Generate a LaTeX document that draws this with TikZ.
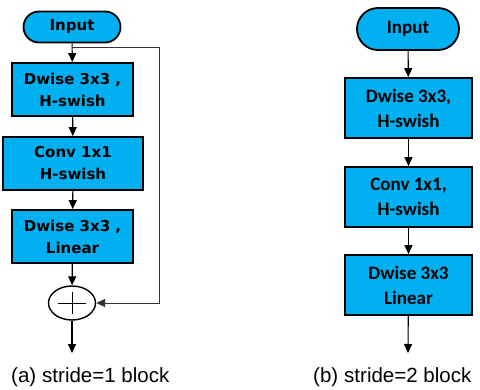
\documentclass[tikz,border=0pt]{standalone}
\usepackage{fontspec}
\setmainfont{Liberation Sans}
\newfontfamily\leftfont{DejaVuSans-Bold.ttf}
\newfontfamily\rightfont{Carlito}
\usetikzlibrary{arrows.meta,shapes.misc,shapes.geometric}
\definecolor{boxblue}{HTML}{00B0F0}

\begin{document}
\begin{tikzpicture}[x=1pt,y=-1pt,
  blk/.style={draw=black, line width=1.8pt, fill=boxblue, inner sep=0pt, align=center},
  inp/.style={rounded rectangle, draw=black, line width=1.8pt, fill=boxblue, inner sep=0pt},
  lft/.style={font=\leftfont\fontsize{15}{22}\selectfont},
  rgt/.style={font=\rightfont\bfseries\fontsize{19}{25}\selectfont},
  arr/.style={line width=1.1pt, -{Triangle[width=8pt,length=9pt]}},
  captxt/.style={font=\fontsize{20.5}{22}\selectfont, anchor=base west, inner sep=0pt}]

  \useasboundingbox (0,0) rectangle (480,389);

  % (a) stride=1
  \node[inp, lft, minimum width=97pt, minimum height=31pt] (inA) at (72,27) {Input};
  \node[blk, lft, minimum width=121pt, minimum height=53pt] (a1) at (72.5,89.5) {Dwise 3x3 ,\\H-swish};
  \node[blk, lft, minimum width=140pt, minimum height=53pt] (a2) at (73,163.5) {Conv 1x1\\H-swish};
  \node[blk, lft, minimum width=121pt, minimum height=53pt] (a3) at (72.5,236.5) {Dwise 3x3 ,\\Linear};
  \node[ellipse, draw=black, line width=1.4pt, fill=white, minimum width=47pt, minimum height=34pt, inner sep=0pt] (add) at (72,303) {};
  \coordinate (split) at (72,47);
  \coordinate (outA) at (72,353);

  \draw[line width=0.7pt] ([xshift=-14pt]add.center) -- ([xshift=14pt]add.center)
                          ([yshift=-11pt]add.center) -- ([yshift=11pt]add.center);

  \draw[arr] (inA) -- (a1);
  \draw[arr] (a1) -- (a2);
  \draw[arr] (a2) -- (a3);
  \draw[arr] (a3) -- (add);
  \draw[arr] (add) -- (outA);
  \draw[line width=0.9pt, black!80, -{Triangle[width=8pt,length=9pt]}] (split) -- ++(87,0) |- (add.east);

  \node[captxt] (capA) at (11,382) {(a)\hspace{6pt}stride=1 block};

  % (b) stride=2
  \node[inp, rgt, minimum width=102pt, minimum height=42pt] (inB) at (408,29) {Input};
  \foreach \n/\y/\t in {b1/108/{Dwise 3x3,\\H-swish}, b2/197/{Conv 1x1,\\H-swish}, b3/285/{Dwise 3x3\\Linear}}
    \node[blk, rgt, minimum width=127pt, minimum height=60pt] (\n) at (408.5,\y) {\t};
  \coordinate (outB) at (408,353);

  \draw[arr] (inB) -- (b1);
  \draw[arr] (b1) -- (b2);
  \draw[arr] (b2) -- (b3);
  \draw[arr] (b3) -- (outB);

  \node[captxt] (capB) at (313,382) {(b)\hspace{6pt}stride=2 block};

\end{tikzpicture}
\end{document}
